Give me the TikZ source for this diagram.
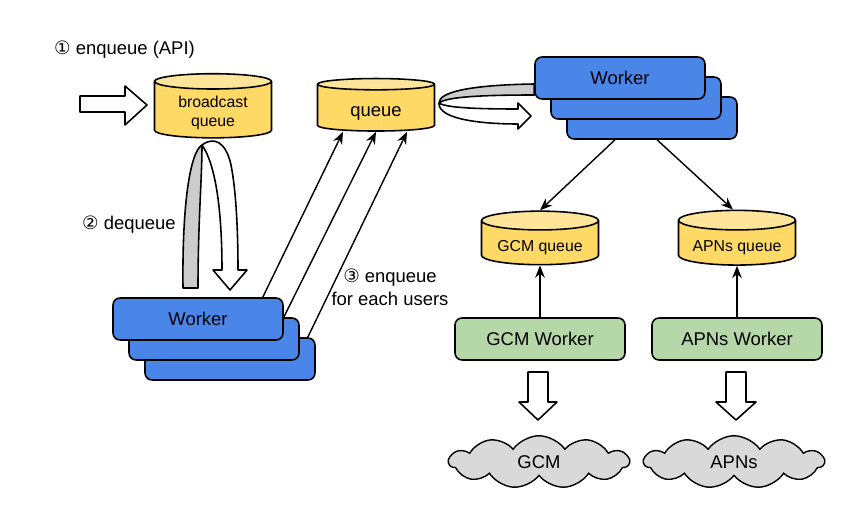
\documentclass[tikz,border=0pt]{standalone}
\usepackage{fontspec}
\setmainfont{Liberation Sans}
\newfontfamily\circfont{DejaVu Sans}
\usetikzlibrary{shapes.geometric,shapes.symbols,arrows.meta,calc}

\definecolor{wkblue}{HTML}{4A86E8}
\definecolor{qyellow}{HTML}{FFD966}
\definecolor{qtop}{HTML}{FFE599}
\definecolor{wkgreen}{HTML}{B6D7A8}
\definecolor{bandgray}{HTML}{CCCCCC}
\definecolor{cloudgray}{HTML}{D9D9D9}

\tikzset{
  queue/.style={cylinder, shape border rotate=90, aspect=0.22, draw, line width=0.9pt,
    cylinder uses custom fill, cylinder body fill=qyellow, cylinder end fill=qtop,
    minimum width=2.34cm, minimum height=1.05cm, inner sep=0pt, align=center,
    text height=12pt, text depth=2pt, font=\fontsize{9}{11}\selectfont},
  worker/.style={draw, line width=0.9pt, rounded corners=4pt, fill=wkblue,
    minimum width=3.4cm, minimum height=0.84cm, font=\fontsize{10.5}{12}\selectfont},
  pushworker/.style={worker, fill=wkgreen},
  service/.style={cloud, cloud puffs=11, cloud puff arc=110, cloud ignores aspect,
    draw, line width=0.8pt, fill=cloudgray, minimum width=3.6cm, minimum height=1.05cm,
    font=\fontsize{10.5}{12}\selectfont},
  band/.style={draw, line width=0.9pt, line join=round},
  link/.style={-{Stealth[length=7pt,width=5.5pt]}, line width=0.8pt},
  note/.style={font=\fontsize{10.5}{13}\selectfont}
}

\begin{document}
\begin{tikzpicture}[x=0.02cm, y=-0.02cm]
    \useasboundingbox (0,0) rectangle (861,523);

    % step 1: API puts into broadcast queue
    \node[note, anchor=west] (lbla) at (48,50) {{\circfont ①} enqueue (API)};
    \draw[band, fill=white] (80,96) -- (125,96) -- (125,86) -- (147,105) -- (125,125)
        -- (125,112) -- (80,112) -- cycle;
    \node[queue, text height=21pt, text depth=2pt] (bq) at (213,110) {broadcast\\queue};
    \node[queue, font=\fontsize{10.5}{12}\selectfont] (mq) at (376,108) {queue};

    % left workers
    \node[worker] (wkc) at (230,359) {};
    \node[worker] (wkb) at (214,339) {};
    \node[worker] (wka) at (198,319) {Worker};

    % step 2: dequeue loop
    \draw[band, fill=bandgray] (183,288) .. controls (182,205) and (190,152) .. (202,145)
        .. controls (202,178) and (198,222) .. (198,288) -- cycle;
    \draw[band, fill=white] (202,145) .. controls (214,136) and (226,142) .. (231,165)
        .. controls (236,190) and (238,230) .. (238,270)
        -- (247,270) -- (230,290) -- (213,270) -- (222,270)
        .. controls (222,212) and (216,165) .. (202,145) -- cycle;
    \node[note, anchor=west] (lblb) at (76,225) {{\circfont ②} dequeue};

    % step 3: fan out into queue
    \draw[link] ($(wka.north east)+(-21,0)$) -- ($(mq.south)+(-33,0)$);
    \draw[link] ($(wkb.north east)+(-16,0)$) -- (mq.south);
    \draw[link] ($(wkc.north east)+(-8,0)$) -- ($(mq.south)+(31,0)$);
    \node[note, align=center] (lblc) at (390,287) {{\circfont ③} enqueue\\for each users};

    % right workers
    \node[worker] (wrc) at (652,118) {};
    \node[worker] (wrb) at (636,98) {};
    \node[worker] (wra) at (620,78) {Worker};

    % dequeue loop from queue
    \draw[band, fill=bandgray] (wra.west |- 0,84) .. controls (470,85) and (439,92) .. (439,103)
        .. controls (446,97) and (480,95) .. (wra.west |- 0,95) -- cycle;
    \draw[band, fill=white] (439,103) .. controls (438,119) and (480,124) .. (518,124)
        -- (518,129) -- (531,116) -- (518,103) -- (518,109)
        .. controls (480,109) and (446,108) .. (439,103) -- cycle;

    % per platform queues
    \node[queue] (gq) at (540,243) {GCM queue};
    \node[queue] (aq) at (737,243) {APNs queue};
    \draw[link] ($(wrc.south)+(-37,0)$) -- (gq.north);
    \draw[link] ($(wrc.south)+(5,0)$) -- ($(aq.north)+(-4,0)$);

    \node[pushworker] (gw) at (540,339) {GCM Worker};
    \node[pushworker] (aw) at (737,339) {APNs Worker};
    \draw[link] (gw) -- (gq);
    \draw[link] (aw) -- (aq);

    % push to services
    \draw[band, fill=white] (528,372) -- (548,372) -- (548,402) -- (557,402) -- (538,420)
        -- (519,402) -- (528,402) -- cycle;
    \draw[band, fill=white] (726,372) -- (746,372) -- (746,402) -- (756,402) -- (736,420)
        -- (716,402) -- (726,402) -- cycle;
    \node[service] (gcl) at (539,462) {GCM};
    \node[service] (acl) at (734,462) {APNs};
\end{tikzpicture}
\end{document}
